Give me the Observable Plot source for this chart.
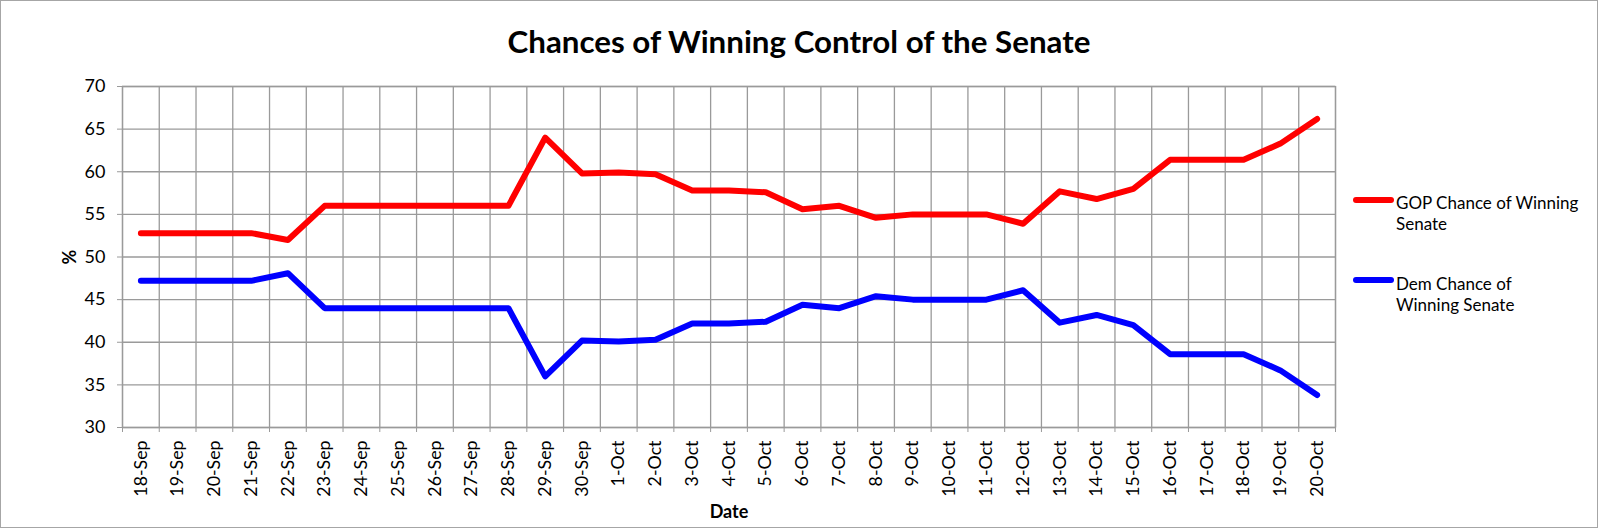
<!DOCTYPE html>
<html>
<head>
<meta charset="utf-8">
<script src="https://cdn.jsdelivr.net/npm/d3@7"></script>
<script src="https://cdn.jsdelivr.net/npm/@observablehq/plot@0.6"></script>
<style>
  html, body { margin: 0; padding: 0; background: white; }
  #chart {
    position: relative; width: 1598px; height: 528px; box-sizing: border-box;
    border: 1px solid #a6a6a6; background: white; font-family: Lato, sans-serif; color: #000;
  }
  #title {
    position: absolute; left: 0; width: 100%; top: 21.7px; text-align: center;
    font-family: Lato, sans-serif; font-weight: bold; font-size: 31.3px; line-height: 36px; color: #000;
  }
  #plot { position: absolute; left: 0; top: 69px; }
  .sw { position: absolute; width: 41px; height: 6px; border-radius: 3px; }
  .lg { position: absolute; font-size: 17px; line-height: 21.5px; color: #000; white-space: nowrap; }
</style>
</head>
<body>
<div id="chart">
  <div id="title">Chances of Winning Control of the Senate</div>
  <div id="plot"></div>
  <div id="legend"></div>
</div>
<script>
const dates = ["18-Sep","19-Sep","20-Sep","21-Sep","22-Sep","23-Sep","24-Sep","25-Sep","26-Sep","27-Sep","28-Sep","29-Sep","30-Sep",
  "1-Oct","2-Oct","3-Oct","4-Oct","5-Oct","6-Oct","7-Oct","8-Oct","9-Oct","10-Oct","11-Oct","12-Oct","13-Oct","14-Oct","15-Oct","16-Oct","17-Oct","18-Oct","19-Oct","20-Oct"];
const gop = [52.8,52.8,52.8,52.8,52.0,56.0,56.0,56.0,56.0,56.0,56.0,64.0,59.8,
  59.9,59.7,57.8,57.8,57.6,55.6,56.0,54.6,55.0,55.0,55.0,53.9,57.7,56.8,58.0,61.4,61.4,61.4,63.3,66.2];
const dem = [47.2,47.2,47.2,47.2,48.1,44.0,44.0,44.0,44.0,44.0,44.0,36.0,40.2,
  40.1,40.3,42.2,42.2,42.4,44.4,44.0,45.4,45.0,45.0,45.0,46.1,42.3,43.2,42.0,38.6,38.6,38.6,36.7,33.8];
const yTicks = [30,35,40,45,50,55,60,65,70];
const seriesNames = ["GOP Chance of Winning Senate", "Dem Chance of Winning Senate"];
const seriesColors = ["#ff0000", "#0000ff"];
const xTitle = "Date";
const yTitle = "%";

const idx = dates.map((d, i) => i);
const bounds = d3.range(dates.length + 1).map(i => i - 0.5);
const rows = idx.map(i => ({i, date: dates[i], gop: gop[i], dem: dem[i]}));
const grid = {stroke: "#9a9a9a", strokeOpacity: 1, strokeWidth: 1.3};

const chart = Plot.plot({
  width: 1344,
  height: 457,
  marginLeft: 121,
  marginRight: 10,
  marginTop: 16,
  marginBottom: 100,
  style: {fontFamily: "Lato, sans-serif", fontSize: "17px", color: "#000", background: "transparent", overflow: "visible"},
  x: {type: "linear", domain: [-0.5, dates.length - 0.5]},
  y: {domain: [30, 70]},
  marks: [
    Plot.gridX(bounds, grid),
    Plot.gridY(yTicks, grid),
    Plot.frame({stroke: "#9a9a9a", strokeWidth: 1.3}),
    Plot.axisY(yTicks, {tickSize: 5, tickPadding: 12, stroke: "#9a9a9a", fill: "#000", label: null, fontSize: 18}),
    Plot.axisX(bounds, {tickSize: 5, tickFormat: () => "", stroke: "#9a9a9a", label: null}),
    Plot.axisX(idx, {tickSize: 0, tickPadding: 13, tickRotate: -90, tickFormat: i => dates[i], fill: "#000", label: null, fontSize: 17.8}),
    Plot.line(rows, {x: "i", y: "gop", stroke: seriesColors[0], strokeWidth: 6, strokeLinejoin: "round", strokeLinecap: "round"}),
    Plot.line(rows, {x: "i", y: "dem", stroke: seriesColors[1], strokeWidth: 6, strokeLinejoin: "round", strokeLinecap: "round"}),
    Plot.text([yTitle], {frameAnchor: "left", dx: -52, rotate: -90, text: d => d, fontSize: 18, fontWeight: "bold", fill: "#000", textAnchor: "middle", lineAnchor: "middle"}),
    Plot.text([xTitle], {frameAnchor: "bottom", dy: 85, text: d => d, fontSize: 18, fontWeight: "bold", fill: "#000", textAnchor: "middle", lineAnchor: "middle"})
  ]
});
document.getElementById("plot").appendChild(chart);

const legend = document.getElementById("legend");
const legendLines = [["GOP Chance of Winning", "Senate"], ["Dem Chance of", "Winning Senate"]];
const swTops = [196, 276];
const txTops = [190.7, 271.7];
seriesNames.forEach((name, k) => {
  const sw = document.createElement("div");
  sw.className = "sw";
  sw.style.left = "1352px";
  sw.style.top = swTops[k] + "px";
  sw.style.background = seriesColors[k];
  legend.appendChild(sw);
  const tx = document.createElement("div");
  tx.className = "lg";
  tx.style.left = "1395px";
  tx.style.top = txTops[k] + "px";
  tx.innerHTML = legendLines[k].join("<br>");
  tx.setAttribute("title", name);
  legend.appendChild(tx);
});
</script>
</body>
</html>
